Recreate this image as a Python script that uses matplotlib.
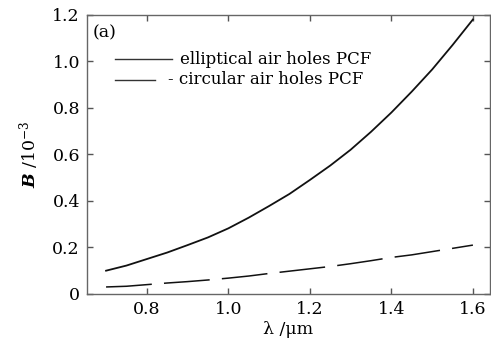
import matplotlib
matplotlib.use("Agg")
import matplotlib.pyplot as plt
from matplotlib.lines import Line2D

# wavelength (um) and birefringence B (x 1e-3)
wavelength = [0.70, 0.75, 0.80, 0.85, 0.90, 0.95, 1.00, 1.05, 1.10, 1.15,
              1.20, 1.25, 1.30, 1.35, 1.40, 1.45, 1.50, 1.55, 1.60]
b_elliptical = [0.100, 0.122, 0.150, 0.178, 0.210, 0.243, 0.282, 0.328, 0.378, 0.430,
                0.490, 0.552, 0.620, 0.697, 0.780, 0.870, 0.965, 1.070, 1.180]
b_circular = [0.030, 0.033, 0.040, 0.047, 0.053, 0.060, 0.068, 0.077, 0.088, 0.098,
              0.108, 0.118, 0.130, 0.143, 0.157, 0.168, 0.182, 0.196, 0.210]

xticks = [0.8, 1.0, 1.2, 1.4, 1.6]
yticks = [0, 0.2, 0.4, 0.6, 0.8, 1.0, 1.2]
ytick_labels = ["0", "0.2", "0.4", "0.6", "0.8", "1.0", "1.2"]

plt.rcParams["font.family"] = ["DejaVu Serif"]
plt.rcParams["mathtext.fontset"] = "dejavuserif"

fig = plt.figure(figsize=(4.91, 3.45), dpi=100)
ax = fig.add_axes([0.177, 0.148, 0.821, 0.809])

ax.plot(wavelength, b_elliptical, color="#111111", lw=1.3)
ax.plot(wavelength, b_circular, color="#111111", lw=1.1, dashes=(30, 8))

ax.set_xlim(0.653, 1.642)
ax.set_ylim(0, 1.2)
ax.set_xticks(xticks)
ax.set_xticklabels([f"{v:.1f}" for v in xticks])
ax.set_yticks(yticks)
ax.set_yticklabels(ytick_labels)
ax.tick_params(direction="in", length=4, width=1, color="#555555",
               labelsize=12.5, top=True, right=True, pad=5)
for s in ax.spines.values():
    s.set_color("#666666")
    s.set_linewidth(1.0)

ax.set_xlabel("λ /μm", fontsize=12.5, labelpad=2)
ax.set_ylabel(r"$\boldsymbol{B}$ /10$^{-3}$", fontsize=12.5, labelpad=8)

ax.text(0.015, 0.965, "(a)", transform=ax.transAxes, fontsize=12.5,
        ha="left", va="top")

# legend drawn by hand (handles + labels)
ax.add_line(Line2D([0.069, 0.210], [0.84, 0.84], transform=ax.transAxes,
                   color="#333333", lw=1.0))
ax.text(0.230, 0.84, "elliptical air holes PCF", transform=ax.transAxes,
        fontsize=12, ha="left", va="center")
ax.add_line(Line2D([0.069, 0.168], [0.768, 0.768], transform=ax.transAxes,
                   color="#333333", lw=1.0))
ax.text(0.200, 0.768, "- circular air holes PCF", transform=ax.transAxes,
        fontsize=12, ha="left", va="center")

fig.savefig("out.png", dpi=100)
